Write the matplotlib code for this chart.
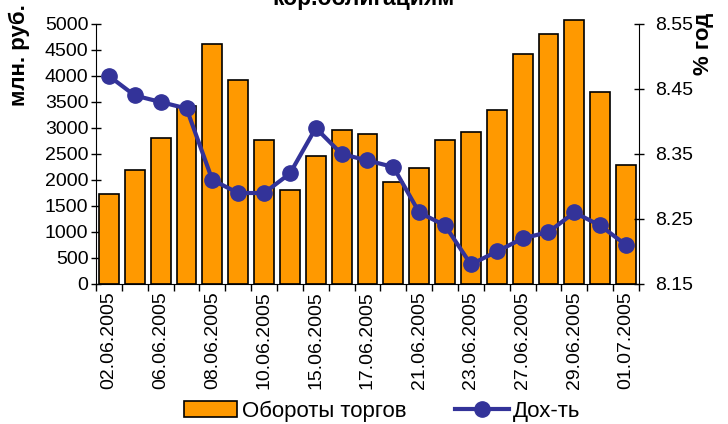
import matplotlib.pyplot as plt
import numpy as np

plt.rcParams['font.family'] = ['Liberation Sans', 'DejaVu Sans']

# trading days (21 sessions), labels shown on every other one
dates = ["02.06.2005", "03.06.2005", "06.06.2005", "07.06.2005", "08.06.2005",
         "09.06.2005", "10.06.2005", "14.06.2005", "15.06.2005", "16.06.2005",
         "17.06.2005", "20.06.2005", "21.06.2005", "22.06.2005", "23.06.2005",
         "24.06.2005", "27.06.2005", "28.06.2005", "29.06.2005", "30.06.2005",
         "01.07.2005"]
turnover = [1730, 2190, 2810, 3420, 4620, 3920, 2770, 1810, 2470, 2960,
            2880, 1970, 2240, 2770, 2930, 3350, 4430, 4810, 5080, 3700, 2280]
yield_pct = [8.47, 8.44, 8.43, 8.42, 8.31, 8.29, 8.29, 8.32, 8.39, 8.35,
             8.34, 8.33, 8.26, 8.24, 8.18, 8.20, 8.22, 8.23, 8.26, 8.24, 8.21]

bar_color = "#FF9900"
line_color = "#333399"

fig = plt.figure(figsize=(7.28, 4.24), dpi=100)
ax = fig.add_axes([0.1319, 0.3302, 0.7458, 0.6132])
x = np.arange(len(dates))

bars = ax.bar(x, turnover, width=0.77, color=bar_color, edgecolor="black",
              linewidth=1.2, label="Обороты торгов", zorder=2)
for b in bars:
    b.set_clip_on(False)
ax.set_ylim(0, 5000)
ax.set_yticks(np.arange(0, 5001, 500))
ax.set_xlim(-0.5, len(dates) - 0.5)

# ticks at category boundaries, labels every other category
ax.set_xticks(np.arange(-0.5, len(dates), 1.0))
ax.set_xticklabels([])
ax.set_xticks(x[::2], minor=True)
ax.set_xticklabels(dates[::2], minor=True, rotation=90, fontsize=14)
ax.tick_params(axis="x", which="major", direction="out", length=5, width=1)
ax.tick_params(axis="x", which="minor", length=0, pad=5)
ax.tick_params(axis="y", direction="inout", length=7, width=1, labelsize=14, pad=2)
for s in ["top", "right"]:
    ax.spines[s].set_visible(False)

ax2 = ax.twinx()
ax2.plot(x, yield_pct, color=line_color, linewidth=3, marker="o",
         markersize=11, label="Дох-ть", zorder=3, clip_on=False)
ax2.set_ylim(8.15, 8.55)
ax2.set_yticks([8.15, 8.25, 8.35, 8.45, 8.55])
ax2.set_yticklabels(["8.15", "8.25", "8.35", "8.45", "8.55"])
ax2.tick_params(axis="y", direction="inout", length=7, width=1, labelsize=14, pad=8)
for s in ["top", "left", "bottom"]:
    ax2.spines[s].set_visible(False)

fig.text(0.026, 0.99, "млн. руб.", rotation=90, ha="center", va="top",
         fontsize=16, fontweight="bold")
fig.text(0.967, 0.97, "% год", rotation=90, ha="center", va="top",
         fontsize=16, fontweight="bold")
fig.text(0.5, 0.988, "кор.облигациям", ha="center", va="baseline",
         fontsize=16.5, fontweight="bold")

h1, l1 = ax.get_legend_handles_labels()
h2, l2 = ax2.get_legend_handles_labels()
fig.legend(h1 + h2, l1 + l2, loc="center", bbox_to_anchor=(0.525, 0.031),
           ncol=2, frameon=False, fontsize=16, handlelength=2.4,
           handletextpad=0.2, columnspacing=2.2)

fig.savefig("out.png", dpi=100)
